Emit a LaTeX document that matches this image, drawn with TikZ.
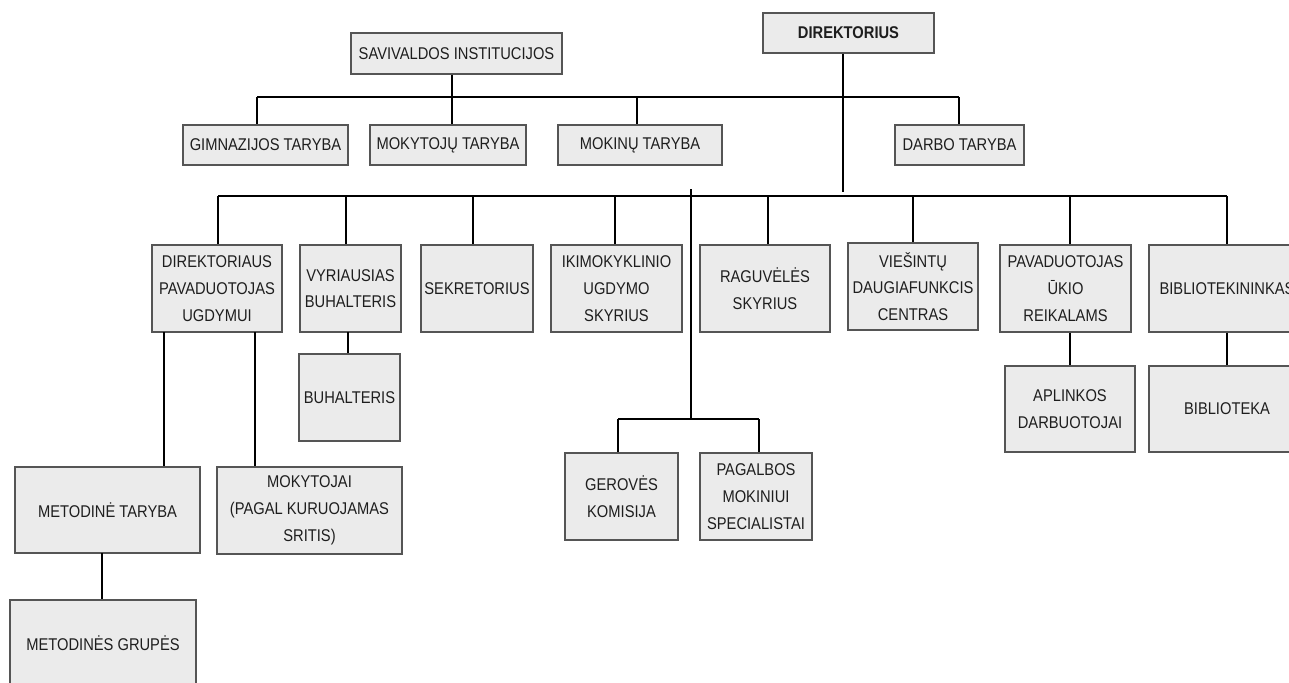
\documentclass[tikz,border=0pt]{standalone}
\usepackage{fontspec}
\setmainfont{Liberation Sans}[FakeStretch=0.865]
\definecolor{boxfill}{HTML}{EBEBEB}
\definecolor{boxline}{HTML}{555555}
\definecolor{txt}{HTML}{1E1E1E}
\begin{document}
\begin{tikzpicture}[x=1pt,y=-1pt,
  orgbox/.style={draw=boxline,line width=1.3pt,fill=boxfill,inner sep=0pt,
    align=center,text=txt,font=\fontsize{17}{26.7}\selectfont},
  link/.style={line width=2.6pt,black}]
\useasboundingbox (0,0) rectangle (1289,682);
\clip (0,0) rectangle (1289,682);
% row 0
\node[orgbox,minimum width=171pt,minimum height=40pt,font=\fontsize{17}{26.7}\selectfont\bfseries] (dir) at (848.5,33) {DIREKTORIUS};
\node[orgbox,minimum width=211pt,minimum height=41pt] (sav) at (456.5,53.5) {SAVIVALDOS INSTITUCIJOS};
% row 1
\node[orgbox,minimum width=165pt,minimum height=40pt] (gimn) at (265.5,145) {GIMNAZIJOS TARYBA};
\node[orgbox,minimum width=156pt,minimum height=40pt] (mokyt) at (448,145) {MOKYTOJŲ TARYBA};
\node[orgbox,minimum width=164pt,minimum height=40pt] (mokin) at (640,145) {MOKINŲ TARYBA};
\node[orgbox,minimum width=129pt,minimum height=40pt] (darbo) at (959.5,145) {DARBO TARYBA};
% row 2
\node[orgbox,minimum width=130pt,minimum height=87pt] (dpu) at (217,288.5) {DIREKTORIAUS\\PAVADUOTOJAS\\UGDYMUI};
\node[orgbox,minimum width=101pt,minimum height=87pt] (vb) at (350.5,288.5) {VYRIAUSIAS\\BUHALTERIS};
\node[orgbox,minimum width=112pt,minimum height=87pt] (sek) at (477,288.5) {SEKRETORIUS};
\node[orgbox,minimum width=131pt,minimum height=87pt] (iki) at (616.5,288.5) {IKIMOKYKLINIO\\UGDYMO\\SKYRIUS};
\node[orgbox,minimum width=130pt,minimum height=87pt] (rag) at (765,288.5) {RAGUVĖLĖS\\SKYRIUS};
\node[orgbox,minimum width=130pt,minimum height=87pt] (vies) at (913,286.5) {VIEŠINTŲ\\DAUGIAFUNKCIS\\CENTRAS};
\node[orgbox,minimum width=131pt,minimum height=87pt] (puk) at (1065.5,288.5) {PAVADUOTOJAS\\ŪKIO\\REIKALAMS};
\node[orgbox,minimum width=156pt,minimum height=87pt] (bib) at (1227,288.5) {BIBLIOTEKININKAS};
% row 3
\node[orgbox,minimum width=101pt,minimum height=87pt] (buh) at (349.5,397.5) {BUHALTERIS};
\node[orgbox,minimum width=130pt,minimum height=86pt] (apl) at (1070,409) {APLINKOS\\DARBUOTOJAI};
\node[orgbox,minimum width=156pt,minimum height=86pt] (bibl) at (1227,409) {BIBLIOTEKA};
\node[orgbox,minimum width=113pt,minimum height=87pt] (ger) at (621.5,496.5) {GEROVĖS\\KOMISIJA};
\node[orgbox,minimum width=112pt,minimum height=87pt] (pag) at (756,496.5) {PAGALBOS\\MOKINIUI\\SPECIALISTAI};
\node[orgbox,minimum width=185pt,minimum height=86pt] (mt) at (107.5,510) {METODINĖ TARYBA};
\node[orgbox,minimum width=185pt,minimum height=87pt] (mok) at (309.5,510.5) {MOKYTOJAI\\(PAGAL KURUOJAMAS\\SRITIS)};
\node[orgbox,minimum width=186pt,minimum height=87pt] (mg) at (103,643.5) {METODINĖS GRUPĖS};
% bus coordinates
\coordinate (t1) at (257,97);
\coordinate (t2) at (959,97);
\coordinate (tsav) at (452,97);
\coordinate (tmokin) at (637,97);
\coordinate (tdir) at (843,97);
\coordinate (b1) at (218,196);
\coordinate (b2) at (1227,196);
\coordinate (bvb) at (346,196);
\coordinate (bsek) at (473,196);
\coordinate (biki) at (615,196);
\coordinate (bmid) at (691,189);
\coordinate (brag) at (768,196);
\coordinate (bvies) at (913,196);
\coordinate (bpuk) at (1070,196);
\coordinate (bdir) at (843,192);
\coordinate (s1) at (618,419);
\coordinate (s2) at (759,419);
\coordinate (smid) at (691,419);
\coordinate (d1) at (164,332);
\coordinate (d2) at (255,332);
\coordinate (vbl) at (348,332);
\coordinate (mgl) at (102,553);
% top connectors
\draw[link] (t1) -- (t2);
\draw[link] (t1) -- (t1 |- gimn.north);
\draw[link] (sav.south -| tsav) -- (tsav |- mokyt.north);
\draw[link] (tmokin) -- (tmokin |- mokin.north);
\draw[link] (t2) -- (t2 |- darbo.north);
\draw[link] (dir.south -| tdir) -- (bdir);
% second bus
\draw[link] (b1) -- (b2);
\draw[link] (b1) -- (b1 |- dpu.north);
\draw[link] (bvb) -- (bvb |- vb.north);
\draw[link] (bsek) -- (bsek |- sek.north);
\draw[link] (biki) -- (biki |- iki.north);
\draw[link] (brag) -- (brag |- rag.north);
\draw[link] (bvies) -- (bvies |- vies.north);
\draw[link] (bpuk) -- (bpuk |- puk.north);
\draw[link] (b2) -- (b2 |- bib.north);
% middle branch
\draw[link] (bmid) -- (smid);
\draw[link] (s1) -- (s2);
\draw[link] (s1) -- (s1 |- ger.north);
\draw[link] (s2) -- (s2 |- pag.north);
% sub connectors
\draw[link] (vbl) -- (vbl |- buh.north);
\draw[link] (puk.south -| apl.north) -- (apl.north);
\draw[link] (bib.south) -- (bibl.north);
\draw[link] (d1) -- (d1 |- mt.north);
\draw[link] (d2) -- (d2 |- mok.north);
\draw[link] (mgl) -- (mgl |- mg.north);
\end{tikzpicture}
\end{document}
